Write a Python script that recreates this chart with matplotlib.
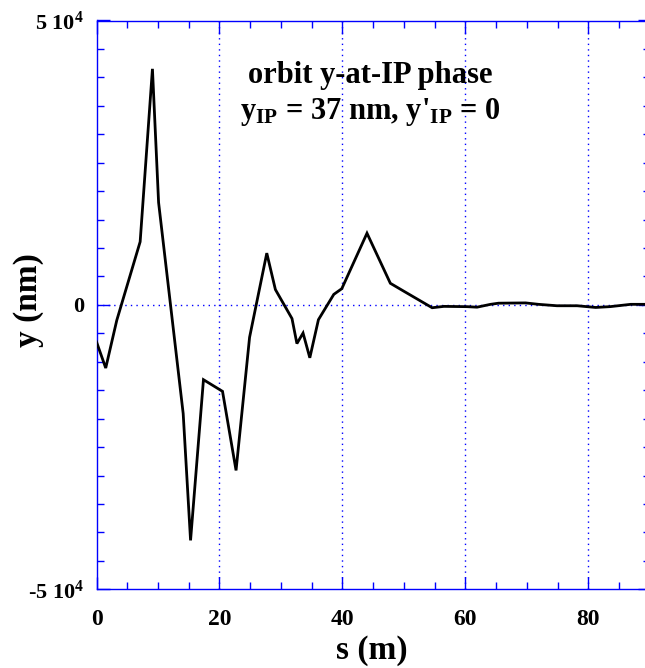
import matplotlib
matplotlib.use("Agg")
import matplotlib.pyplot as plt
from matplotlib.ticker import MultipleLocator, FixedLocator

s_m = [0, 1.5, 3.3, 7.1, 9.1, 10.1, 14.1, 15.3, 17.4, 20.5, 22.7, 24.9, 27.7, 29.1,
       31.8, 32.6, 33.6, 34.7, 36.1, 38.6, 39.9, 44.0, 47.8, 50.0, 54.6, 56.5, 60.3,
       61.9, 64.1, 65.4, 69.8, 71.9, 74.9, 78.2, 81.2, 83.6, 86.9, 89.3]
y_nm = [-6500, -11100, -2700, 11100, 41500, 18000, -19100, -41400, -13150, -15200,
        -29100, -5700, 9100, 2700, -2400, -6800, -4950, -9300, -2600, 1850, 2850,
        12600, 3800, 2400, -500, -260, -310, -400, 100, 300, 350, 100, -150, -150,
        -450, -300, 100, 100]

x_ticks = [0, 20, 40, 60, 80]
y_ticks = [-50000, 0, 50000]
y_tick_labels = ["-" + r"5 10$^{\mathbf{4}}$", "0", r"5 10$^{\mathbf{4}}$"]

plt.rcParams['font.family'] = ['Liberation Serif', 'DejaVu Serif']
plt.rcParams['font.weight'] = 'bold'
plt.rcParams['mathtext.fontset'] = 'custom'
plt.rcParams['mathtext.rm'] = 'Liberation Serif:bold'
plt.rcParams['mathtext.bf'] = 'Liberation Serif:bold'
plt.rcParams['mathtext.it'] = 'Liberation Serif:bold'

W, H = 645, 668
fig = plt.figure(figsize=(W / 100, H / 100), dpi=100)
left = 96.5 / W
bottom = (H - 589.3) / H
height = (589.3 - 20.5) / H
px_per_unit = (588.3 - 96.5) / 80.0
xmax = 90
width = xmax * px_per_unit / W
ax = fig.add_axes([left, bottom, width, height])

blue = '#0000ff'
for sp in ax.spines.values():
    sp.set_color(blue)
    sp.set_linewidth(1.0)

ax.plot(s_m, y_nm, color='black', lw=2.0, zorder=3, solid_joinstyle='miter')

ax.set_xlim(0, xmax)
ax.set_ylim(-50000, 50000)

for xv in x_ticks[1:]:
    ax.axvline(xv, color=blue, lw=1.0, ls=(0, (1, 3)), zorder=1)
ax.axhline(0, color=blue, lw=1.0, ls=(0, (1, 3)), zorder=1)

ax.xaxis.set_major_locator(FixedLocator(x_ticks))
ax.xaxis.set_minor_locator(MultipleLocator(5))
ax.yaxis.set_major_locator(FixedLocator(y_ticks))
ax.yaxis.set_minor_locator(MultipleLocator(5000))
ax.set_yticklabels(y_tick_labels)
ax.set_xticklabels([str(v) for v in x_ticks])

ax.tick_params(which='both', direction='in', top=True, right=True, color=blue)
ax.tick_params(which='major', length=9, width=1.0, labelsize=17)
ax.tick_params(which='minor', length=5, width=1.0)
ax.tick_params(axis='x', which='major', pad=14)
ax.tick_params(axis='y', which='major', labelsize=16, pad=9)
for lab in ax.get_xticklabels() + ax.get_yticklabels():
    lab.set_fontweight('bold')

fig.text(372 / W, 1 - 650 / H, 's (m)', ha='center', va='center',
         fontsize=24, fontweight='bold')
fig.text(28 / W, 1 - 300 / H, 'y (nm)', ha='center', va='center',
         rotation=90, fontsize=24, fontweight='bold')

fig.text(370 / W, 1 - 75 / H, 'orbit y-at-IP phase',
         ha='center', va='center', fontsize=22, fontweight='bold')
fig.text(370 / W, 1 - 112 / H, r"y$_{\mathbf{IP}}$ = 37 nm, y'$_{\mathbf{IP}}$ = 0",
         ha='center', va='center', fontsize=22, fontweight='bold')

fig.savefig('out.png', dpi=100)
